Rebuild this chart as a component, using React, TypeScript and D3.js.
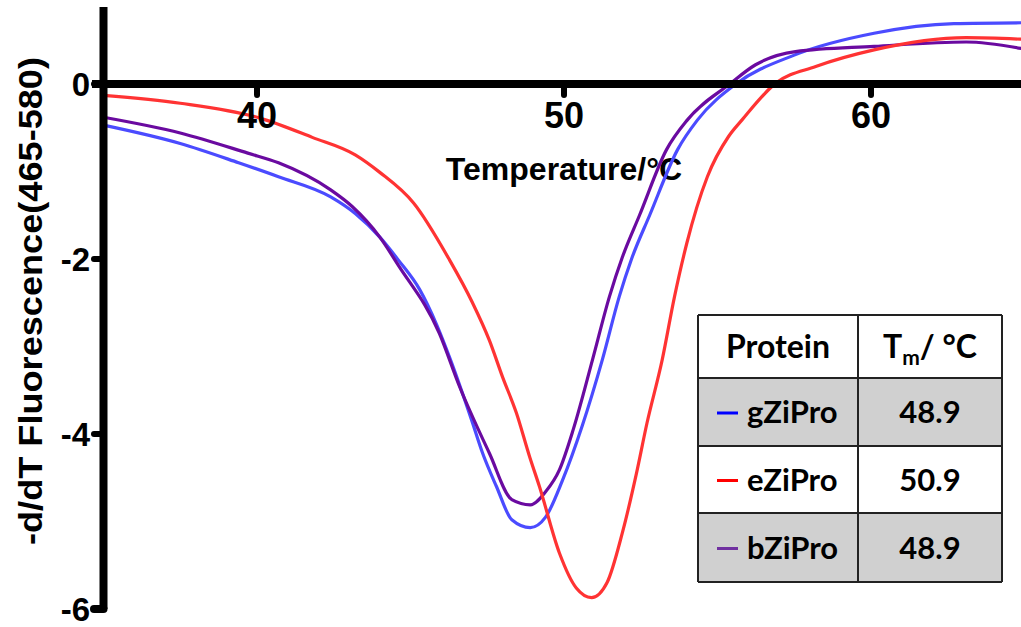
import React from "react";
import * as d3 from "d3";

// ---- data ----
const gTemps = [35.0, 37.5, 39.4, 40.7, 42.4, 43.2, 44.0, 44.6, 45.3, 45.85, 46.3, 47.0, 47.35, 47.8, 48.3, 48.9, 49.4, 49.95, 50.6, 51.25, 51.8, 52.2, 52.79, 53.7, 54.35, 55.6, 57.5, 60.1, 62.7, 65.0];
const gValues = [-0.47, -0.68, -0.9, -1.06, -1.29, -1.48, -1.75, -2.01, -2.35, -2.75, -3.15, -3.85, -4.22, -4.6, -4.98, -5.07, -4.95, -4.53, -3.9, -3.15, -2.43, -2.0, -1.5, -0.75, -0.41, 0.0, 0.33, 0.58, 0.69, 0.7];

const eTemps = [35.0, 37.5, 40.1, 41.8, 43.2, 44.0, 45.1, 46.27, 47.02, 47.57, 48.0, 48.45, 48.88, 49.2, 49.85, 50.4, 50.9, 51.4, 51.9, 52.36, 52.7, 53.2, 53.6, 54.0, 54.67, 55.36, 55.8, 56.9, 58.2, 60.1, 63.1, 65.0];
const eValues = [-0.13, -0.22, -0.39, -0.61, -0.81, -1.01, -1.36, -2.01, -2.5, -2.93, -3.35, -3.76, -4.26, -4.6, -5.36, -5.76, -5.87, -5.7, -5.13, -4.45, -3.88, -3.15, -2.43, -1.82, -1.06, -0.6, -0.41, 0.01, 0.2, 0.39, 0.53, 0.51];

const bTemps = [35.0, 37.5, 39.7, 40.7, 42.4, 43.1, 44.0, 44.6, 45.94, 46.6, 47.57, 48.3, 48.9, 49.4, 49.85, 50.3, 50.93, 51.48, 51.9, 52.46, 53.34, 54.02, 55.4, 56.24, 57.54, 60.1, 63.1, 65.0];
const bValues = [-0.38, -0.56, -0.79, -0.9, -1.21, -1.4, -1.75, -2.07, -2.85, -3.46, -4.22, -4.75, -4.81, -4.66, -4.41, -3.95, -3.15, -2.43, -1.98, -1.5, -0.75, -0.41, 0.0, 0.22, 0.37, 0.43, 0.48, 0.4];

const xTicks = [40, 50, 60];
const yTicks = [0, -2, -4, -6];

const proteins = ["gZiPro", "eZiPro", "bZiPro"];
const tmValues = ["48.9", "50.9", "48.9"];
const lineColors = ["#4b4bff", "#ff3333", "#6a0aa0"];
const legendColors = ["#0000ff", "#ff0000", "#7030a0"];

const AX_FONT = "'Liberation Sans', Arial, Helvetica, sans-serif";
const TB_FONT = "Lato, 'Open Sans', sans-serif";

export default function App() {
  const W = 1021;
  const H = 627;
  const x = d3.scaleLinear().domain([35, 65]).range([103.5, 1024.5]);
  const y = d3.scaleLinear().domain([0, -6]).range([84, 609]);

  const line = d3
    .line<[number, number]>()
    .x((d) => x(d[0]))
    .y((d) => y(d[1]))
    .curve(d3.curveMonotoneX);

  const series = [
    { name: "gZiPro", pts: gTemps.map((t, i) => [t, gValues[i]] as [number, number]), color: lineColors[0] },
    { name: "bZiPro", pts: bTemps.map((t, i) => [t, bValues[i]] as [number, number]), color: lineColors[2] },
    { name: "eZiPro", pts: eTemps.map((t, i) => [t, eValues[i]] as [number, number]), color: lineColors[1] },
  ];

  const axisX = x(35);
  const zeroY = y(0);

  // table geometry
  const tLeft = 698;
  const tMid = 858;
  const tRight = 1002;
  const rowEdges = [315, 378, 446, 513, 582];
  const rowFills = ["#ffffff", "#d0d0d0", "#ffffff", "#d0d0d0"];

  return (
    <svg
      width={W}
      height={H}
      style={{ position: "absolute", left: 0, top: 0, background: "#fff" }}
    >
      <rect x={0} y={0} width={W} height={H} fill="#fff" />
      <defs>
        <clipPath id="plotclip">
          <rect x={axisX} y={0} width={W - axisX} height={H} />
        </clipPath>
      </defs>

      {/* y axis label */}
      <text
        transform={`translate(42,301) rotate(-90)`}
        textAnchor="middle"
        fontFamily={AX_FONT}
        fontWeight="bold"
        fontSize={34}
        textLength={488}
        lengthAdjust="spacingAndGlyphs"
        fill="#000"
      >
        -d/dT Fluorescence(465-580)
      </text>

      {/* x axis label */}
      <text
        x={564}
        y={180}
        textAnchor="middle"
        fontFamily={AX_FONT}
        fontWeight="bold"
        fontSize={32}
        fill="#000"
      >
        Temperature/°C
      </text>

      {/* curves */}
      <g clipPath="url(#plotclip)">
        {series.map((s) => (
          <path
            key={s.name}
            d={line(s.pts) || ""}
            fill="none"
            stroke={s.color}
            strokeWidth={3.2}
            strokeLinejoin="round"
          />
        ))}
      </g>

      {/* axes */}
      <line x1={axisX} y1={7} x2={axisX} y2={y(-6)} stroke="#000" strokeWidth={8} />
      <line x1={92} y1={zeroY} x2={W} y2={zeroY} stroke="#000" strokeWidth={8} />
      {yTicks.map((t) => (
        <line
          key={"yt" + t}
          x1={94}
          y1={y(t)}
          x2={axisX}
          y2={y(t)}
          stroke="#000"
          strokeWidth={t === -6 ? 8 : 6}
          strokeLinecap="round"
        />
      ))}
      {xTicks.map((t) => (
        <line
          key={"xt" + t}
          x1={x(t)}
          y1={zeroY}
          x2={x(t)}
          y2={zeroY + 11}
          stroke="#000"
          strokeWidth={6}
          strokeLinecap="round"
        />
      ))}
      {yTicks.map((t) => (
        <text
          key={"yl" + t}
          x={90}
          y={y(t) + 12}
          textAnchor="end"
          fontFamily={AX_FONT}
          fontWeight="bold"
          fontSize={33}
          fill="#000"
        >
          {t === 0 ? "0" : "-" + Math.abs(t)}
        </text>
      ))}
      {xTicks.map((t) => (
        <text
          key={"xl" + t}
          x={x(t)}
          y={128}
          textAnchor="middle"
          fontFamily={AX_FONT}
          fontWeight="bold"
          fontSize={36}
          fill="#000"
        >
          {t}
        </text>
      ))}

      {/* table */}
      {rowFills.map((f, i) => (
        <rect
          key={"row" + i}
          x={tLeft}
          y={rowEdges[i]}
          width={tRight - tLeft}
          height={rowEdges[i + 1] - rowEdges[i]}
          fill={f}
        />
      ))}
      {rowEdges.map((ry, i) => (
        <line key={"hl" + i} x1={tLeft} y1={ry} x2={tRight} y2={ry} stroke="#222" strokeWidth={2} />
      ))}
      {[tLeft, tMid, tRight].map((cx, i) => (
        <line key={"vl" + i} x1={cx} y1={rowEdges[0]} x2={cx} y2={rowEdges[4]} stroke="#222" strokeWidth={2} />
      ))}
      <text
        x={(tLeft + tMid) / 2}
        y={358}
        textAnchor="middle"
        fontFamily={TB_FONT}
        fontWeight="bold"
        fontSize={32}
        fill="#000"
      >
        Protein
      </text>
      <text
        x={(tMid + tRight) / 2}
        y={358}
        textAnchor="middle"
        fontFamily={TB_FONT}
        fontWeight="bold"
        fontSize={32}
        fill="#000"
      >
        T
        <tspan fontSize={21} dy={7}>m</tspan>
        <tspan dy={-7}>/ °C</tspan>
      </text>
      {proteins.map((p, i) => {
        const cy = (rowEdges[i + 1] + rowEdges[i + 2]) / 2;
        return (
          <g key={p}>
            <line x1={717} y1={cy + 1} x2={738} y2={cy + 1} stroke={legendColors[i]} strokeWidth={3} />
            <text
              x={747}
              y={cy + 11}
              fontFamily={TB_FONT}
              fontWeight="bold"
              fontSize={31}
              fill="#000"
            >
              {p}
            </text>
            <text
              x={(tMid + tRight) / 2}
              y={cy + 11}
              textAnchor="middle"
              fontFamily={TB_FONT}
              fontWeight="bold"
              fontSize={31}
              fill="#000"
            >
              {tmValues[i]}
            </text>
          </g>
        );
      })}
    </svg>
  );
}
